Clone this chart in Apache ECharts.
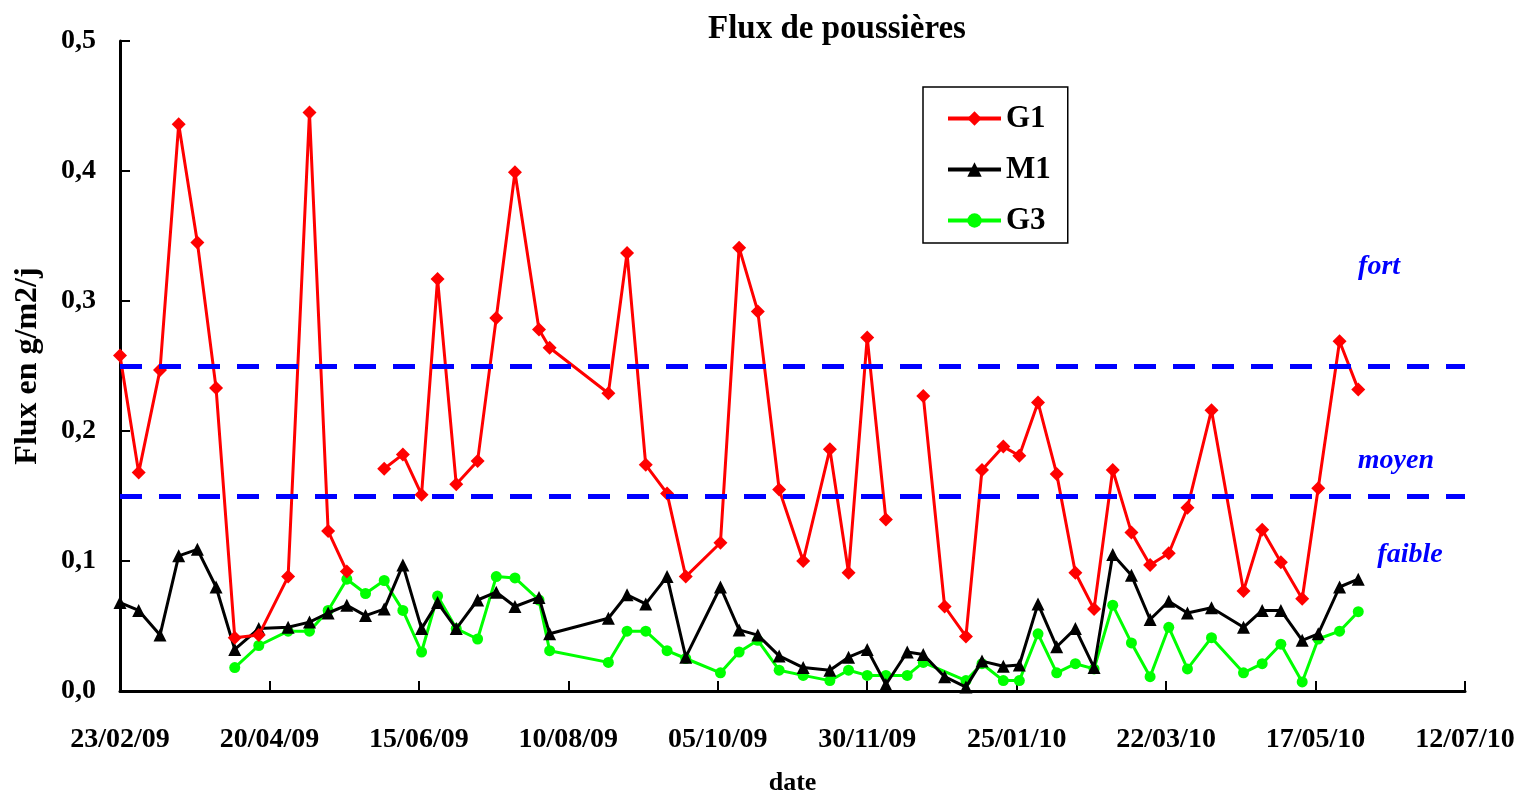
<!DOCTYPE html>
<html>
<head>
<meta charset="utf-8">
<title>Flux de poussières</title>
<script src="https://cdn.jsdelivr.net/npm/echarts@6/dist/echarts.min.js"></script>
<style>
  html, body { margin: 0; padding: 0; background: #fff; }
  #chart { width: 1519px; height: 792px; }
</style>
</head>
<body>
<div id="chart"></div>
<script>
// sampling dates (dd/mm/yy on the axis)
const dates = [
  '2009-02-23','2009-03-02','2009-03-10','2009-03-17','2009-03-24','2009-03-31','2009-04-07','2009-04-16',
  '2009-04-27','2009-05-05','2009-05-12','2009-05-19','2009-05-26','2009-06-02','2009-06-09','2009-06-16',
  '2009-06-22','2009-06-29','2009-07-07','2009-07-14','2009-07-21','2009-07-30','2009-08-03','2009-08-25',
  '2009-09-01','2009-09-08','2009-09-16','2009-09-23','2009-10-06','2009-10-13','2009-10-20','2009-10-28',
  '2009-11-06','2009-11-16','2009-11-23','2009-11-30','2009-12-07','2009-12-15','2009-12-21','2009-12-29',
  '2010-01-06','2010-01-12','2010-01-20','2010-01-26','2010-02-02','2010-02-09','2010-02-16','2010-02-23',
  '2010-03-02','2010-03-09','2010-03-16','2010-03-23','2010-03-30','2010-04-08','2010-04-20','2010-04-27',
  '2010-05-04','2010-05-12','2010-05-18','2010-05-26','2010-06-02'
]

// flux in g/m2/j, null = no measure
const g1 = [
  0.258, 0.168, 0.247, 0.436, 0.345, 0.233, 0.041, 0.043,
  0.088, 0.445, 0.123, 0.092, null, 0.171, 0.182, 0.151,
  0.317, 0.159, 0.177, 0.287, 0.399, 0.278, 0.264, 0.229,
  0.337, 0.174, 0.152, 0.088, 0.114, 0.341, 0.292, 0.155,
  0.100, 0.186, 0.091, 0.272, 0.132, null, 0.227, 0.065,
  0.042, 0.170, 0.188, 0.181, 0.222, 0.167, 0.091, 0.063,
  0.170, 0.122, 0.097, 0.106, 0.141, 0.216, 0.077, 0.124,
  0.099, 0.071, 0.156, 0.269, 0.232
]
const m1 = [
  0.068, 0.062, 0.043, 0.104, 0.109, 0.080, 0.032, 0.048,
  0.049, 0.053, 0.060, 0.066, 0.058, 0.063, 0.097, 0.048,
  0.068, 0.048, 0.070, 0.076, 0.065, 0.072, 0.044, 0.056,
  0.074, 0.067, 0.088, 0.026, 0.080, 0.047, 0.043, 0.027,
  0.018, 0.016, 0.026, 0.032, 0.005, 0.030, 0.028, 0.011,
  0.003, 0.023, 0.019, 0.020, 0.067, 0.034, 0.048, 0.018,
  0.105, 0.089, 0.055, 0.069, 0.060, 0.064, 0.049, 0.062,
  0.062, 0.039, 0.044, 0.080, 0.086
]
const g3 = [
  null, null, null, null, null, null, 0.018, 0.035,
  0.046, 0.046, 0.062, 0.086, 0.075, 0.085, 0.062, 0.030,
  0.073, 0.048, 0.040, 0.088, 0.087, 0.070, 0.031, 0.022,
  0.046, 0.046, 0.031, 0.025, 0.014, 0.030, 0.039, 0.016,
  0.012, 0.008, 0.016, 0.012, 0.012, 0.012, 0.022, null,
  0.008, 0.021, 0.008, 0.008, 0.044, 0.014, 0.021, 0.017,
  0.066, 0.037, 0.011, 0.049, 0.017, 0.041, 0.014, 0.021,
  0.036, 0.007, 0.040, 0.046, 0.061
]

// threshold lines and their zone names
const thresholds = [0.25, 0.15]
const zoneNames = ['fort', 'moyen', 'faible']

const DAY = 86400000
const start = Date.UTC(2009, 1, 23)

const toDay = s => {
  const p = s.split('-')
  return (Date.UTC(+p[0], +p[1] - 1, +p[2]) - start) / DAY
}
const pad = n => (n < 10 ? '0' : '') + n
const fmtDate = d => {
  const dt = new Date(start + d * DAY)
  return pad(dt.getUTCDate()) + '/' + pad(dt.getUTCMonth() + 1) + '/' + String(dt.getUTCFullYear()).slice(2)
}
const pairs = vals => dates.map((d, i) => [toDay(d), vals[i] == null ? '-' : vals[i]])

const font = '"Liberation Serif", "Times New Roman", serif'
const zoneLabel = {
  show: true,
  position: 'inside',
  color: '#0000ff',
  fontFamily: font,
  fontSize: 28,
  fontWeight: 'bold',
  fontStyle: 'italic'
}

const chart = echarts.init(document.getElementById('chart'))

const option = {
  animation: false,
  backgroundColor: '#fff',
  textStyle: { fontFamily: font },
  title: {
    text: 'Flux de poussières',
    left: 703,
    top: 8,
    textStyle: { fontFamily: font, fontSize: 33, fontWeight: 'bold', color: '#000' }
  },
  grid: { left: 120, right: 54, top: 41, bottom: 101, containLabel: false, outerBoundsMode: 'none' },
  legend: {
    orient: 'vertical',
    left: 923,
    top: 87,
    padding: [16, 17, 7, 23],
    itemWidth: 53,
    itemHeight: 18,
    itemGap: 20,
    borderColor: '#000',
    borderWidth: 1.5,
    lineStyle: { width: 4 },
    textStyle: { fontFamily: font, fontSize: 31, fontWeight: 'bold', color: '#000', lineHeight: 30 },
    data: ['G1', 'M1', 'G3']
  },
  xAxis: {
    type: 'value',
    min: 0,
    max: 504,
    interval: 56,
    name: 'date',
    nameLocation: 'middle',
    nameGap: 79,
    nameTextStyle: { fontFamily: font, fontSize: 26, fontWeight: 'bold', color: '#000' },
    axisLine: { lineStyle: { color: '#000', width: 3 } },
    axisTick: { inside: true, length: 10, lineStyle: { color: '#000', width: 2 } },
    splitLine: { show: false },
    axisLabel: {
      margin: 35,
      fontFamily: font,
      fontSize: 28,
      fontWeight: 'bold',
      color: '#000',
      formatter: v => fmtDate(v)
    }
  },
  yAxis: {
    type: 'value',
    min: 0,
    max: 0.5,
    interval: 0.1,
    name: 'Flux en g/m2/j',
    nameLocation: 'middle',
    nameGap: 76,
    nameTextStyle: { fontFamily: font, fontSize: 32, fontWeight: 'bold', color: '#000' },
    axisLine: { show: true, lineStyle: { color: '#000', width: 3 } },
    axisTick: { show: true, inside: true, length: 10, lineStyle: { color: '#000', width: 2 } },
    splitLine: { show: false },
    axisLabel: {
      margin: 24,
      fontFamily: font,
      fontSize: 28,
      fontWeight: 'bold',
      color: '#000',
      formatter: v => v.toFixed(1).replace('.', ',')
    }
  },
  series: [
    {
      name: 'G1',
      type: 'line',
      data: pairs(g1),
      connectNulls: false,
      symbol: 'diamond',
      symbolSize: 14,
      itemStyle: { color: '#ff0000' },
      lineStyle: { color: '#ff0000', width: 3 },
      z: 4,
      markLine: {
        silent: true,
        symbol: ['none', 'none'],
        label: { show: false },
        lineStyle: { color: '#0000ff', width: 5, type: [22, 17] },
        data: thresholds.map(t => ({ yAxis: t }))
      },
      markPoint: {
        silent: true,
        symbol: 'circle',
        symbolSize: 0,
        label: zoneLabel,
        data: [
          { name: zoneNames[0], coord: [471.8, 0.326], label: { formatter: zoneNames[0] } },
          { name: zoneNames[1], coord: [478.1, 0.177], label: { formatter: zoneNames[1] } },
          { name: zoneNames[2], coord: [483.4, 0.105], label: { formatter: zoneNames[2] } }
        ]
      }
    },
    {
      name: 'M1',
      type: 'line',
      data: pairs(m1),
      connectNulls: true,
      symbol: 'triangle',
      symbolSize: 13,
      itemStyle: { color: '#000' },
      lineStyle: { color: '#000', width: 3 },
      z: 3
    },
    {
      name: 'G3',
      type: 'line',
      data: pairs(g3),
      connectNulls: true,
      symbol: 'circle',
      symbolSize: 11,
      itemStyle: { color: '#00ff00' },
      lineStyle: { color: '#00ff00', width: 3 },
      z: 2
    }
  ]
}

chart.setOption(option)
</script>
</body>
</html>
